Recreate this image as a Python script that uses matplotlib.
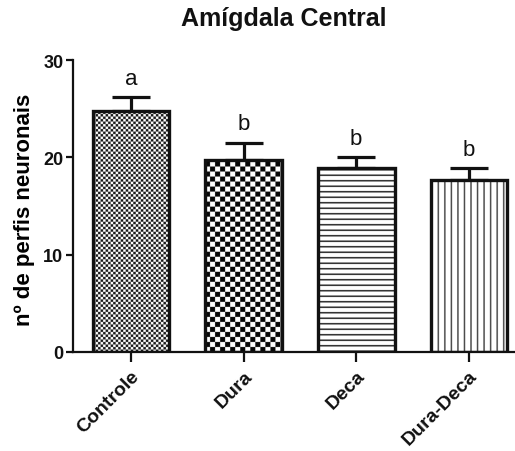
import numpy as np
import matplotlib
matplotlib.use("Agg")
import matplotlib.pyplot as plt

categories = ["Controle", "Dura", "Deca", "Dura-Deca"]
means = [24.8, 19.7, 18.9, 17.7]
sems = [1.4, 1.8, 1.1, 1.2]
letters = ["a", "b", "b", "b"]
yticks = [0, 10, 20, 30]
patterns = ["fine_check", "coarse_check", "hlines", "vlines"]

plt.rcParams['font.family'] = ['Liberation Sans', 'DejaVu Sans']

W, H = 515, 452
fig = plt.figure(figsize=(W / 100, H / 100), dpi=100)
ax = fig.add_axes([73 / W, (H - 353) / H, (515 - 73) / W, (353 - 61) / H])
ax.set_xlim(-0.515, 3.41)
ax.set_ylim(0, 30)

x = np.arange(len(categories))
ax.errorbar(x, means, yerr=[np.zeros(len(sems)), sems], fmt='none',
            ecolor='#111111', elinewidth=2.3, capsize=14, capthick=2.3, zorder=2)
bars = ax.bar(x, means, width=0.68, facecolor='white', edgecolor='none',
              linewidth=0, zorder=2.2)
edges = ax.bar(x, means, width=0.68, facecolor='none', edgecolor='#111111',
               linewidth=2.4, zorder=4)

fig.canvas.draw()
SUB = 2  # sub-pixels per pixel


def make_pattern(kind, wpx, hpx):
    w = max(int(round(wpx * SUB)), 1)
    h = max(int(round(hpx * SUB)), 1)
    yy, xx = np.mgrid[0:h, 0:w]
    yy = h - 1 - yy  # start pattern from the bar bottom
    if kind == "fine_check":
        c = 5
        arr = ((xx // c + yy // c) % 2).astype(float)
        img = 1 - arr * 0.9
    elif kind == "coarse_check":
        c = 10
        arr = ((xx // c + yy // c) % 2).astype(float)
        img = 1 - arr * 0.97
    elif kind == "hlines":
        per = 11
        arr = ((yy % per) < 3).astype(float)
        img = 1 - arr * 0.85
    else:
        per = 13
        arr = ((xx % per) < 3).astype(float)
        img = 1 - arr * 0.7
    return img


for b, kind in zip(bars, patterns):
    x0, y0 = b.get_x(), b.get_y()
    x1, y1 = x0 + b.get_width(), y0 + b.get_height()
    p0 = ax.transData.transform((x0, y0))
    p1 = ax.transData.transform((x1, y1))
    img = make_pattern(kind, p1[0] - p0[0], p1[1] - p0[1])
    im = ax.imshow(img, cmap='gray', vmin=0, vmax=1, extent=(x0, x1, y0, y1),
                   origin='upper', interpolation='antialiased', aspect='auto',
                   zorder=3)
    im.set_clip_path(b)

ax.set_xlim(-0.515, 3.41)
ax.set_ylim(0, 30)

for xi, m, s, l in zip(x, means, sems, letters):
    ax.annotate(l, (xi, m + s), xytext=(0, 6), textcoords='offset points',
                ha='center', va='bottom', fontsize=16, color='#111111')

for side in ['top', 'right']:
    ax.spines[side].set_visible(False)
for side in ['left', 'bottom']:
    ax.spines[side].set_linewidth(1.6)
    ax.spines[side].set_color('#111111')
    ax.spines[side].set_zorder(5)

ax.set_yticks(yticks)
ax.set_yticklabels([str(v) for v in yticks], fontsize=13, fontweight='bold')
ax.set_xticks(x)
ax.set_xticklabels(categories, fontsize=14, fontweight='bold', rotation=45,
                   ha='right', rotation_mode='anchor')
ax.tick_params(axis='y', length=5, width=1.6, pad=2, colors='#111111')
ax.tick_params(axis='x', length=7, width=1.6, pad=4, colors='#111111')

ax.set_ylabel("nº de perfis neuronais", fontsize=16, fontweight='bold')
ax.yaxis.set_label_coords(-0.086, 0.49)
fig.text(284 / W, 1 - 19 / H, "Amígdala Central", ha='center', va='center',
         fontsize=18, fontweight='bold', color='#111111')

fig.savefig("out.png", dpi=100)
